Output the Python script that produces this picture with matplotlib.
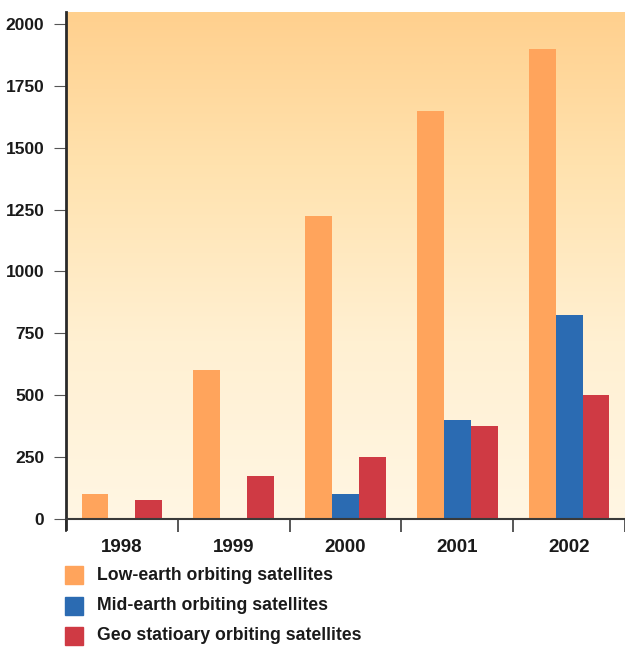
import numpy as np
import matplotlib
matplotlib.use("Agg")
import matplotlib.pyplot as plt
from matplotlib.colors import LinearSegmentedColormap
from matplotlib.patches import Rectangle

years = ["1998", "1999", "2000", "2001", "2002"]
low_earth = [100, 600, 1225, 1650, 1900]
mid_earth = [0, 0, 100, 400, 825]
geo_stationary = [75, 175, 250, 375, 500]

series_names = [
    "Low-earth orbiting satellites",
    "Mid-earth orbiting satellites",
    "Geo statioary orbiting satellites",
]
series_colors = ["#FFA45C", "#2B6BB2", "#CF3A44"]
y_ticks = [0, 250, 500, 750, 1000, 1250, 1500, 1750, 2000]

plt.rcParams["font.family"] = ["Liberation Sans", "DejaVu Sans"]

fig = plt.figure(figsize=(6.25, 6.47), dpi=100)
ax = fig.add_axes([66 / 625, (647 - 519) / 647, 1 - 66 / 625, (519 - 12) / 647])

ymax = 2048
ax.set_xlim(-0.5, len(years) - 0.5)
ax.set_ylim(0, ymax)

# vertical warm gradient behind the bars
grad_cmap = LinearSegmentedColormap.from_list(
    "warm", [(0.0, "#FFF6E3"), (0.35, "#FFF0D2"), (0.7, "#FFE2AE"), (1.0, "#FFD08E")]
)
grad = np.linspace(0, 1, 256).reshape(-1, 1)
ax.imshow(grad, cmap=grad_cmap, aspect="auto", origin="lower",
          extent=(-0.5, len(years) - 0.5, 0, ymax), zorder=0)

x = np.arange(len(years))
width = 0.24
for i, (vals, color) in enumerate(zip([low_earth, mid_earth, geo_stationary], series_colors)):
    ax.bar(x + (i - 1) * width, vals, width=width, color=color, zorder=2, linewidth=0)

for side in ["top", "right"]:
    ax.spines[side].set_visible(False)
ax.spines["left"].set_linewidth(2.0)
ax.spines["left"].set_color("#2a2a2a")
ax.spines["left"].set_bounds(-40, ymax)
ax.spines["bottom"].set_linewidth(1.5)
ax.spines["bottom"].set_color("#3a3a3a")

ax.set_yticks(y_ticks)
ax.set_yticklabels([str(v) for v in y_ticks], fontsize=12.5, fontweight="bold", color="#1a1a1a")
ax.tick_params(axis="y", length=8.5, width=0.8, color="#555555", pad=7)

# category boundaries as ticks, labels centred in each group
ax.set_xticks(np.arange(-0.5, len(years) + 0.5, 1.0))
ax.set_xticklabels([])
ax.tick_params(axis="x", length=9.5, width=1.2, color="#3a3a3a", direction="out")
for xi, label in zip(x, years):
    ax.text(xi, -0.056 * ymax, label, ha="center", va="center",
            fontsize=13.5, fontweight="bold", color="#1a1a1a", clip_on=False)

# legend drawn as squares with text
for k, (name, color) in enumerate(zip(series_names, series_colors)):
    yc = 575 + k * 30.5
    fig.patches.append(Rectangle((65 / 625, 1 - (yc + 9) / 647), 18 / 625, 18 / 647,
                                 transform=fig.transFigure, color=color, zorder=3))
    fig.text(97 / 625, 1 - yc / 647, name, ha="left", va="center",
             fontsize=12.7, fontweight="bold", color="#1a1a1a")

fig.savefig("out.png", dpi=100)
